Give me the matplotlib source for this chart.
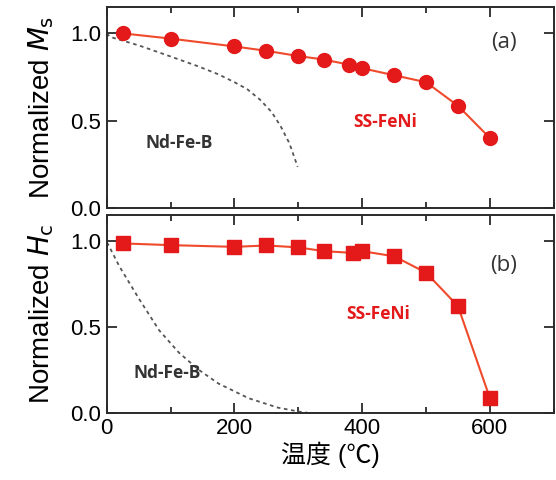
import matplotlib
matplotlib.use('Agg')
import matplotlib.pyplot as plt
from matplotlib.ticker import MultipleLocator

plt.rcParams['font.family'] = ['Liberation Sans', 'Noto Sans CJK JP', 'DejaVu Sans']

# SS-FeNi data
temp_ss = [25, 100, 200, 250, 300, 340, 380, 400, 450, 500, 550, 600]
ms_ss = [1.0, 0.97, 0.925, 0.90, 0.87, 0.85, 0.82, 0.80, 0.76, 0.72, 0.585, 0.40]
temp_hc = [25, 100, 200, 250, 300, 340, 385, 400, 450, 500, 550, 600]
hc_ss = [0.985, 0.975, 0.965, 0.973, 0.962, 0.94, 0.93, 0.94, 0.91, 0.815, 0.62, 0.085]

# Nd-Fe-B reference curves
temp_nd_ms = [0, 5, 51, 98, 144, 175, 200, 220, 240, 258, 272, 286, 299]
ms_nd = [1.0, 0.98, 0.93, 0.87, 0.81, 0.765, 0.72, 0.68, 0.62, 0.55, 0.47, 0.37, 0.235]
temp_nd_hc = [0, 2, 20, 51, 82, 113, 144, 175, 222, 268, 304, 315]
hc_nd = [0.99, 0.98, 0.85, 0.66, 0.48, 0.35, 0.25, 0.17, 0.085, 0.03, 0.005, 0.0]

red_line = '#ef4a2c'
red_mark = '#e3191a'
dash_col = '#555555'
spine_col = '#2a2a2a'
note_font = ['Open Sans', 'DejaVu Sans']

fig = plt.figure(figsize=(5.56, 4.80), dpi=100)
ax1 = fig.add_axes([0.192, 0.567, 0.804, 0.418])
ax2 = fig.add_axes([0.192, 0.140, 0.804, 0.412])

for ax in (ax1, ax2):
    ax.set_xlim(0, 700)
    ax.set_ylim(0, 1.15)
    ax.xaxis.set_major_locator(MultipleLocator(200))
    ax.xaxis.set_minor_locator(MultipleLocator(100))
    ax.yaxis.set_major_locator(MultipleLocator(0.5))
    ax.tick_params(which='both', direction='in', top=True, right=True,
                   width=1.3, color=spine_col, labelsize=16, pad=4)
    ax.tick_params(which='major', length=7)
    ax.tick_params(which='minor', length=4)
    for s in ax.spines.values():
        s.set_linewidth(1.4)
        s.set_color(spine_col)

ax1.plot(temp_nd_ms, ms_nd, linestyle=(0, (2, 2)), color=dash_col, lw=1.3)
ax1.plot(temp_ss, ms_ss, '-', color=red_line, lw=1.5, marker='o', ms=10,
         mfc=red_mark, mec=red_mark)
ax1.set_xticklabels([])
ax1.set_ylabel('Normalized $\\mathit{M}_\\mathrm{s}$', fontsize=20, labelpad=10)
ax1.text(113, 0.37, 'Nd-Fe-B', fontsize=12.5, fontweight='bold', color='#333333',
         ha='center', va='center', family=note_font)
ax1.text(436, 0.49, 'SS-FeNi', fontsize=12.5, fontweight='bold', color=red_mark,
         ha='center', va='center', family=note_font)
ax1.text(622, 0.95, '(a)', fontsize=16, color='#333333', ha='center', va='center',
         family=note_font)

ax2.plot(temp_nd_hc, hc_nd, linestyle=(0, (2, 2)), color=dash_col, lw=1.3)
ax2.plot(temp_hc, hc_ss, '-', color=red_line, lw=1.5, marker='s', ms=10,
         mfc=red_mark, mec=red_mark)
ax2.set_ylabel('Normalized $\\mathit{H}_\\mathrm{c}$', fontsize=20, labelpad=10)
ax2.set_xlabel('温度 (℃)', fontsize=18, labelpad=2)
ax2.text(95, 0.23, 'Nd-Fe-B', fontsize=12.5, fontweight='bold', color='#333333',
         ha='center', va='center', family=note_font)
ax2.text(425, 0.575, 'SS-FeNi', fontsize=12.5, fontweight='bold', color=red_mark,
         ha='center', va='center', family=note_font)
ax2.text(622, 0.855, '(b)', fontsize=16, color='#333333', ha='center', va='center',
         family=note_font)

fig.align_ylabels([ax1, ax2])
fig.savefig('out.png', dpi=100)
